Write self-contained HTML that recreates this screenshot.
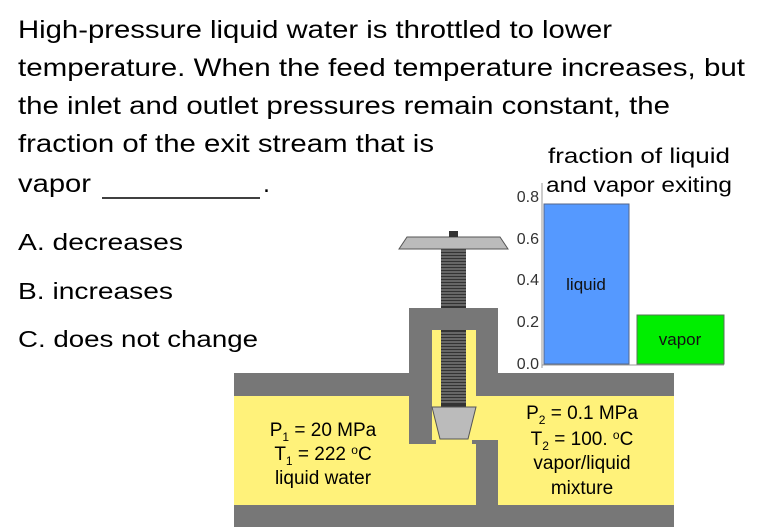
<!DOCTYPE html>
<html><head><meta charset="utf-8"><style>html,body{margin:0;padding:0;background:#fff;}svg{display:block}</style></head>
<body>
<svg width="768" height="529" viewBox="0 0 768 529" xmlns="http://www.w3.org/2000/svg" font-family="Liberation Sans, Arial, sans-serif">
<g font-size="25" fill="#000">
<text x="18" y="38" textLength="594" lengthAdjust="spacingAndGlyphs">High-pressure liquid water is throttled to lower</text>
<text x="18" y="76" textLength="727" lengthAdjust="spacingAndGlyphs">temperature. When the feed temperature increases, but</text>
<text x="18" y="114" textLength="652" lengthAdjust="spacingAndGlyphs">the inlet and outlet pressures remain constant, the</text>
<text x="18" y="152" textLength="416" lengthAdjust="spacingAndGlyphs">fraction of the exit stream that is</text>
<text x="18" y="192" textLength="73" lengthAdjust="spacingAndGlyphs">vapor</text>
<text x="263" y="192">.</text>
</g>
<line x1="102" y1="198" x2="260" y2="198" stroke="#000" stroke-width="1.5"/>
<g font-size="23" fill="#000">
<text x="18" y="250" textLength="165" lengthAdjust="spacingAndGlyphs">A.  decreases</text>
<text x="18" y="299" textLength="155" lengthAdjust="spacingAndGlyphs">B.  increases</text>
<text x="18" y="347" textLength="240" lengthAdjust="spacingAndGlyphs">C.  does not change</text>
</g>
<g font-size="21" fill="#000">
<text x="548" y="163" textLength="182" lengthAdjust="spacingAndGlyphs">fraction of  liquid</text>
<text x="546" y="192" textLength="186" lengthAdjust="spacingAndGlyphs">and vapor exiting</text>
</g>
<!-- chart -->
<g font-size="16" fill="#333" text-anchor="end">
<text x="539" y="202">0.8</text>
<text x="539" y="244">0.6</text>
<text x="539" y="285">0.4</text>
<text x="539" y="327">0.2</text>
<text x="539" y="369">0.0</text>
</g>
<line x1="542" y1="183" x2="542" y2="368" stroke="#999" stroke-width="1"/>
<line x1="542" y1="365" x2="724" y2="365" stroke="#999" stroke-width="1"/>
<rect x="544" y="204" width="85" height="160" fill="#5599ff" stroke="#556688" stroke-width="1"/>
<rect x="637" y="315" width="87" height="49" fill="#00ee00" stroke="#557755" stroke-width="1"/>
<text x="586" y="290" font-size="17" text-anchor="middle" fill="#111">liquid</text>
<text x="680" y="345" font-size="17" text-anchor="middle" fill="#111">vapor</text>
<!-- pipe -->
<rect x="234" y="396" width="440" height="109" fill="#fff27a"/>
<rect x="234" y="373" width="440" height="23" fill="#777"/>
<rect x="234" y="505" width="440" height="22" fill="#777"/>
<rect x="409" y="308" width="89" height="88" fill="#777"/>
<rect x="432" y="330" width="44" height="66" fill="#fff27a"/>
<rect x="409" y="396" width="23" height="48" fill="#777"/>
<rect x="432" y="440" width="4" height="4" fill="#777"/>
<rect x="476" y="440" width="22" height="65" fill="#777"/>
<rect x="472" y="440" width="4" height="4" fill="#777"/>
<rect x="432" y="396" width="44" height="11" fill="#fff27a"/>
<!-- screw -->
<rect x="441" y="248" width="25" height="60" fill="#333"/>
<rect x="441" y="330" width="25" height="77" fill="#333"/>
<g stroke="#bbb" stroke-width="0.8">
<path d="M441 251h25M441 254h25M441 257h25M441 260h25M441 263h25M441 266h25M441 269h25M441 272h25M441 275h25M441 278h25M441 281h25M441 284h25M441 287h25M441 290h25M441 293h25M441 296h25M441 299h25M441 302h25M441 305h25"/>
<path d="M441 333h25M441 336h25M441 339h25M441 342h25M441 345h25M441 348h25M441 351h25M441 354h25M441 357h25M441 360h25M441 363h25M441 366h25M441 369h25M441 372h25M441 375h25M441 378h25M441 381h25M441 384h25M441 387h25M441 390h25M441 393h25M441 396h25M441 399h25M441 402h25"/>
</g>
<polygon points="407,237 500,237 508,249 399,249" fill="#bbb" stroke="#555" stroke-width="1"/>
<rect x="449" y="231" width="9" height="6" fill="#333"/>
<polygon points="432,407 476,407 468,439 440,439" fill="#bbb" stroke="#555" stroke-width="1"/>
<!-- labels -->
<g font-size="19" fill="#000" text-anchor="middle">
<text x="323" y="436">P<tspan font-size="12" dy="5">1</tspan><tspan dy="-5"> = 20 MPa</tspan></text>
<text x="323" y="460">T<tspan font-size="12" dy="5">1</tspan><tspan dy="-5"> = 222 </tspan><tspan font-size="12" dy="-6">o</tspan><tspan dy="6">C</tspan></text>
<text x="323" y="484">liquid water</text>
<text x="582" y="419">P<tspan font-size="12" dy="5">2</tspan><tspan dy="-5"> = 0.1 MPa</tspan></text>
<text x="582" y="445">T<tspan font-size="12" dy="5">2</tspan><tspan dy="-5"> = 100. </tspan><tspan font-size="12" dy="-6">o</tspan><tspan dy="6">C</tspan></text>
<text x="582" y="469">vapor/liquid</text>
<text x="582" y="494">mixture</text>
</g>
</svg>
</body></html>
